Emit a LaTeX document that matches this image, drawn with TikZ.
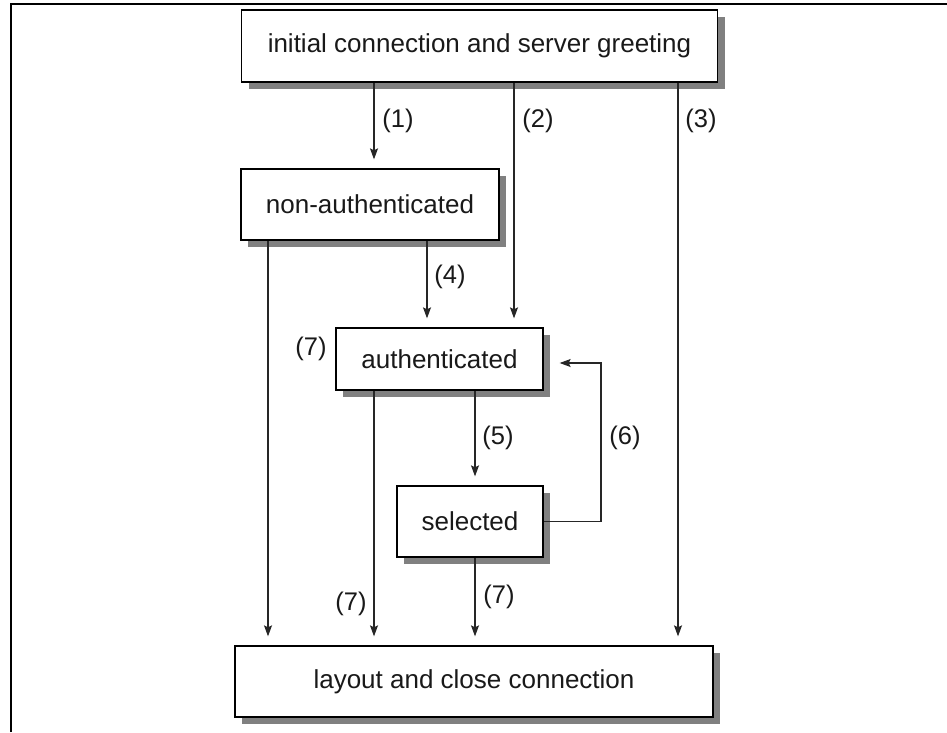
\documentclass[tikz,border=0pt]{standalone}
\usepackage{fontspec}
\setmainfont{Liberation Sans}
\usetikzlibrary{arrows.meta,shadows}
\begin{document}
\begin{tikzpicture}[x=1pt,y=-1pt,
  statebox/.style={draw=black,line width=1.3pt,fill=white,inner sep=0pt,
    font=\fontsize{26}{30}\selectfont,text=black!90,
    drop shadow={shadow xshift=7pt,shadow yshift=-7pt,fill=black!50,opacity=1}},
  arr/.style={draw=black!85,line width=1.2pt,-{Stealth[length=11pt,width=8pt,inset=2pt]},shorten >=9pt},
  lbl/.style={font=\fontsize{25.5}{30}\selectfont,text=black!90,inner sep=0pt},
  frame/.style={draw=black,line width=1.5pt}]
\useasboundingbox (0,0) rectangle (947,732);
\draw[frame] (11,732) -- (11,4) -- (947,4);

\node[statebox,minimum width=476pt,minimum height=72pt] (b1) at (479.5,46) {initial connection and server greeting};
\node[statebox,minimum width=258pt,minimum height=71pt] (b2) at (370,204.5) {non-authenticated};
\node[statebox,minimum width=207pt,minimum height=62pt] (b3) at (439.5,359) {authenticated};
\node[statebox,minimum width=146pt,minimum height=71pt] (b4) at (470,521.5) {selected};
\node[statebox,minimum width=478pt,minimum height=71pt] (b5) at (474,681.5) {layout and close connection};

% (1) (2) (3)
\draw[arr] (b1.south -| 374,0) -- (b2.north -| 374,0);
\draw[arr] (b1.south -| 514,0) -- (b3.north -| 514,0);
\draw[arr] (b1.south -| 678,0) -- (b5.north -| 678,0);
% from non-authenticated
\draw[arr] (b2.south -| 427,0) -- (b3.north -| 427,0);
\draw[arr] (b2.south -| 268,0) -- (b5.north -| 268,0);
% from authenticated
\draw[arr] (b3.south -| 475,0) -- (b4.north -| 475,0);
\draw[arr] (b3.south -| 374,0) -- (b5.north -| 374,0);
% from selected
\draw[arr] (b4.south -| 475,0) -- (b5.north -| 475,0);
\coordinate (c6) at (601,363);
\draw[arr,shorten >=16pt] (b4.east) -| (c6) -- (c6 -| b3.east);

\node[lbl] (l1) at (398,121) {(1)};
\node[lbl] (l2) at (538,121) {(2)};
\node[lbl] (l3) at (701,121) {(3)};
\node[lbl] (l4) at (450,277) {(4)};
\node[lbl] (l7a) at (311,349) {(7)};
\node[lbl] (l5) at (498,438) {(5)};
\node[lbl] (l6) at (625,438) {(6)};
\node[lbl] (l7b) at (351,604) {(7)};
\node[lbl] (l7c) at (499,597) {(7)};
\end{tikzpicture}
\end{document}
